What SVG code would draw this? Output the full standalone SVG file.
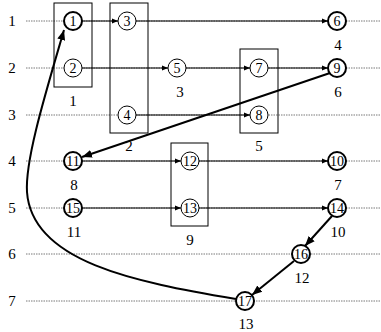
<svg xmlns="http://www.w3.org/2000/svg" width="381" height="332" viewBox="0 0 381 332">
<defs>
<marker id="a" viewBox="0 0 10 10" refX="10" refY="5" markerWidth="6" markerHeight="6" markerUnits="userSpaceOnUse" orient="auto"><path d="M0,1 L10,5 L0,9 z" fill="#000"/></marker>
<marker id="b" viewBox="0 0 10 10" refX="10" refY="5" markerWidth="10" markerHeight="10" markerUnits="userSpaceOnUse" orient="auto"><path d="M0,1 L10,5 L0,9 z" fill="#000"/></marker>
</defs>
<style>
text{font-family:"Liberation Serif","Times New Roman",serif;fill:#000}
.row{font-size:15px;text-anchor:middle}
.lbl{font-size:15px;text-anchor:middle}
.nt{font-size:14px;text-anchor:middle}
.dot{stroke:#555;stroke-width:0.8;stroke-dasharray:1.5,1;fill:none}
.box{fill:none;stroke:#000;stroke-width:1}
.thin{stroke:#000;stroke-width:1;fill:none;marker-end:url(#a)}
.thick{stroke:#000;stroke-width:2;fill:none;marker-end:url(#b)}
.n circle{fill:#fff;stroke:#000;stroke-width:1}
.n.t circle{stroke-width:2}
</style>
<g id="rows">
<text class="row" x="12" y="26">1</text>
<text class="row" x="12" y="73">2</text>
<text class="row" x="12" y="120">3</text>
<text class="row" x="12" y="166">4</text>
<text class="row" x="12" y="213">5</text>
<text class="row" x="12" y="259">6</text>
<text class="row" x="12" y="306">7</text>
<line class="dot" x1="26" y1="21" x2="381" y2="21"/>
<line class="dot" x1="26" y1="68" x2="381" y2="68"/>
<line class="dot" x1="26" y1="115" x2="381" y2="115"/>
<line class="dot" x1="26" y1="161" x2="381" y2="161"/>
<line class="dot" x1="26" y1="208" x2="381" y2="208"/>
<line class="dot" x1="26" y1="254" x2="381" y2="254"/>
<line class="dot" x1="26" y1="301" x2="381" y2="301"/>
</g>
<g id="boxes">
<rect class="box" x="54" y="3" width="38" height="84"/>
<text class="lbl" x="73" y="106">1</text>
<rect class="box" x="110" y="3" width="38" height="130"/>
<text class="lbl" x="129" y="151">2</text>
<rect class="box" x="240" y="49" width="38" height="84"/>
<text class="lbl" x="259" y="151">5</text>
<rect class="box" x="171" y="143" width="37" height="83"/>
<text class="lbl" x="190" y="245">9</text>
</g>
<g id="connectors">
<line class="thin" x1="82" y1="21" x2="118" y2="21"/>
<line class="thin" x1="136" y1="21" x2="328" y2="21"/>
<line class="thin" x1="82" y1="68" x2="168" y2="68"/>
<line class="thin" x1="186" y1="68" x2="250" y2="68"/>
<line class="thin" x1="268" y1="68" x2="328" y2="68"/>
<line class="thin" x1="136" y1="115" x2="250" y2="115"/>
<line class="thin" x1="82" y1="161" x2="181" y2="161"/>
<line class="thin" x1="199" y1="161" x2="328" y2="161"/>
<line class="thin" x1="82" y1="208" x2="181" y2="208"/>
<line class="thin" x1="199" y1="208" x2="328" y2="208"/>
<line class="thick" x1="330" y1="73" x2="82" y2="157"/>
<line class="thick" x1="332" y1="216" x2="305" y2="246"/>
<line class="thick" x1="294" y1="261" x2="252" y2="295"/>
<path class="thick" d="M236,299 C135,282 32,262 27,192 C25,160 45,95 64,30"/>
</g>
<g id="n1" class="n t"><circle cx="73" cy="21" r="9"/><text class="nt" x="73" y="26">1</text></g>
<g id="n2" class="n"><circle cx="73" cy="68" r="9"/><text class="nt" x="73" y="73">2</text></g>
<g id="n3" class="n"><circle cx="127" cy="21" r="9"/><text class="nt" x="127" y="26">3</text></g>
<g id="n4" class="n"><circle cx="127" cy="115" r="9"/><text class="nt" x="127" y="120">4</text></g>
<g id="n5" class="n"><circle cx="177" cy="68" r="9"/><text class="nt" x="177" y="73">5</text><text class="lbl" x="180" y="97">3</text></g>
<g id="n6" class="n t"><circle cx="337" cy="21" r="9"/><text class="nt" x="337" y="26">6</text><text class="lbl" x="338" y="50">4</text></g>
<g id="n7" class="n"><circle cx="259" cy="68" r="9"/><text class="nt" x="259" y="73">7</text></g>
<g id="n8" class="n"><circle cx="259" cy="115" r="9"/><text class="nt" x="259" y="120">8</text></g>
<g id="n9" class="n t"><circle cx="337" cy="68" r="9"/><text class="nt" x="337" y="73">9</text><text class="lbl" x="338" y="97">6</text></g>
<g id="n11" class="n t"><circle cx="73" cy="161" r="9"/><text class="nt" x="73" y="166">11</text><text class="lbl" x="74" y="190">8</text></g>
<g id="n12" class="n"><circle cx="190" cy="161" r="9"/><text class="nt" x="190" y="166">12</text></g>
<g id="n10" class="n t"><circle cx="337" cy="161" r="9"/><text class="nt" x="337" y="166">10</text><text class="lbl" x="338" y="190">7</text></g>
<g id="n15" class="n t"><circle cx="73" cy="208" r="9"/><text class="nt" x="73" y="213">15</text><text class="lbl" x="74" y="237">11</text></g>
<g id="n13" class="n"><circle cx="190" cy="208" r="9"/><text class="nt" x="190" y="213">13</text></g>
<g id="n14" class="n t"><circle cx="337" cy="208" r="9"/><text class="nt" x="337" y="213">14</text><text class="lbl" x="338" y="237">10</text></g>
<g id="n16" class="n t"><circle cx="301" cy="254" r="9"/><text class="nt" x="301" y="259">16</text><text class="lbl" x="302" y="283">12</text></g>
<g id="n17" class="n t"><circle cx="245" cy="301" r="9"/><text class="nt" x="245" y="306">17</text><text class="lbl" x="246" y="329">13</text></g>
</svg>
